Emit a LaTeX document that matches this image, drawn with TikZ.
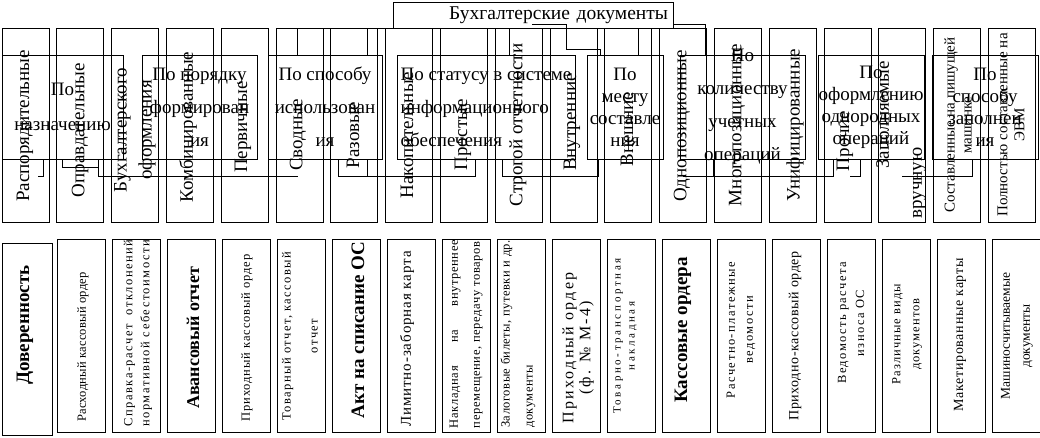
\documentclass[tikz,border=0pt]{standalone}
\usepackage{fontspec}
\setmainfont{Liberation Serif}
\newcommand{\trk}[1]{\addfontfeature{LetterSpace=#1}}
\tikzset{
  headbox/.style={rectangle, draw, line width=1pt, minimum width=280pt,
    minimum height=26pt, inner xsep=5pt, inner ysep=0pt, text width=270pt,
    align=right, font=\fontsize{19.5}{22}\selectfont},
  tallbox/.style={rectangle, draw, line width=1pt, minimum width=47pt,
    minimum height=194pt, inner sep=0pt},
  docbox/.style={rectangle, draw, line width=1pt, minimum width=48pt,
    minimum height=193pt, inner sep=0pt},
  grpbox/.style={rectangle, draw, line width=1pt, minimum height=104pt, inner sep=0pt},
  grptext/.style={inner sep=0pt, align=center, font={\fontsize{19}{#1}\selectfont}},
  vtext/.style={rotate=90, inner sep=0pt, align=center, font=\fontsize{19}{25}\selectfont},
  smallv/.style={rotate=90, inner sep=0pt, align=center, font=\fontsize{15}{17}\selectfont},
  doctext/.style n args={3}{rotate=90, inner sep=0pt, align=center,
    font={\fontsize{#1}{#2}\selectfont\trk{#3}}},
  boldtext/.style={rotate=90, inner sep=0pt, font={\fontsize{#1}{22}\selectfont\bfseries}},
  link/.style={line width=1pt}
}

\begin{document}
\begin{tikzpicture}[x=1pt, y=-1pt]
  \useasboundingbox (0,0) rectangle (1040,437);

  % Header
  \node[headbox] (top) at (533,15) {Бухгалтерские документы};

  % Kinds of documents (upper row)
  \foreach \i in {1,...,19}
    \node[tallbox] (t\i) at ({25.5+54.8*(\i-1)},125) {};

  \node[vtext] (n1) at (25,126) {Распорядительные};
  \node[vtext] (n2) at (80,130) {Оправдательные};
  \node[vtext] (n3) at (135,130) {Бухгалтерского\\оформления};
  \node[vtext] (n4) at (188,127) {Комбинированные};
  \node[vtext] (n5) at (243,127) {Первичные};
  \node[vtext] (n6) at (298,135) {Сводные};
  \node[vtext] (n7) at (353,135) {Разовые};
  \node[vtext] (n8) at (407,135) {Накопительные};
  \node[vtext] (n9) at (463,135) {Простые};
  \node[vtext] (n10) at (518,125) {Строгой отчетности};
  \node[vtext] (n11) at (572,122) {Внутренние};
  \node[vtext] (n12) at (627,129) {Внешние};
  \node[vtext] (n13) at (682,126) {Однопозиционные};
  \node[vtext] (n14) at (737,125) {Многопозиционные};
  \node[vtext] (n15) at (795,125) {Унифицированные};
  \node[vtext] (n16) at (845,141) {Прочие};
  \node[vtext, align=left, font=\fontsize{19}{33}\selectfont] (n17) at (901,140)
    {\hspace*{50pt}Заполняемые\\вручную};
  \node[smallv] (n18) at (958,125) {Составленные на пишущей\\машинке};
  \node[smallv] (n19) at (1011,125) {Полностью составленные на\\ЭВМ};

  % Classification groups
  \node[grpbox, minimum width=121pt] (g1) at (62.5,107) {};
  \node[grpbox, minimum width=115pt] (g2) at (199.5,107) {};
  \node[grpbox, minimum width=114pt] (g3) at (325,107) {};
  \node[grpbox, minimum width=178pt] (g4) at (486,107) {};
  \node[grpbox, minimum width=76pt] (g5) at (625,107) {};
  \node[grpbox, minimum width=125pt] (g6) at (742.5,107) {};
  \node[grpbox, minimum width=106pt] (g7) at (871,107) {};
  \node[grpbox, minimum width=106pt] (g8) at (985,107) {};

  \node[grptext=35] (g1l) at (g1) {По\\назначению};
  \node[grptext=33] (g2l) at (g2) {По порядку\\формирован\\ия};
  \node[grptext=33] (g3l) at (g3) {По способу\\использован\\ия};
  \node[grptext=33, align=left] (g4l) at (g4) {По статусу в системе\\информационного\\обеспечения};
  \node[grptext=22] (g5l) at (g5) {По\\месту\\составле\\ния};
  \node[grptext=33] (g6l) at (g6) {По\\количеству\\учетных\\операций};
  \node[grptext=22] (g7l) at (g7) {По\\оформлению\\однородных\\операций};
  \node[grptext=22] (g8l) at (g8) {По\\способу\\заполнен\\ия};

  % Header to groups
  \draw[link] (top.south west) -| ([xshift=-28pt]g3.north);
  \draw[link] (top.south west) -| ([xshift=42pt]g3.north);
  \draw[link] (top.south west) -| ([xshift=-54pt]g4.north);
  \draw[link] (top.south) -| ([xshift=23pt]g4.north);
  \draw[link] ([xshift=-1pt,yshift=4pt]top.south) -| ([xshift=-59pt,yshift=5pt]g5.north)
    -| ([xshift=-25pt]g5.north);
  \draw[link] (top.south east) -| ([xshift=13pt]g5.north);
  \draw[link] ([yshift=4pt]top.south east) -| ([xshift=-37.5pt]g6.north);

  % Groups to kinds
  \draw[link] ([xshift=-19.5pt]g1.south) |- ([xshift=-25pt,yshift=-17pt]g1.south);
  \draw[link] (g1.south) |- ([xshift=35.5pt,yshift=-8pt]g1.south) -- ([xshift=35.5pt]g1.south);
  \draw[link] ([xshift=35.5pt]g1.south) |- ([xshift=-27pt,yshift=-17pt]g3.south);
  \draw[link] ([xshift=13pt]g3.south) |- ([xshift=42pt,yshift=-17pt]g3.south) -- ([xshift=42pt]g3.south);
  \draw[link] ([xshift=42pt]g3.south) |- ([xshift=-11pt,yshift=-17pt]g4.south) -- ([xshift=-11pt]g4.south);
  \draw[link] ([xshift=16pt]g4.south) |- ([xshift=-27pt,yshift=-17pt]g5.south) -- ([xshift=-27pt]g5.south);
  \draw[link] ([xshift=-59.5pt,yshift=-17pt]g6.south) -| ([xshift=-29.5pt]g6.south);
  \draw[link] ([xshift=-29.5pt]g6.south) |- ([xshift=-38pt,yshift=-17pt]g7.south) -- ([xshift=-38pt]g7.south);
  \draw[link] ([xshift=-21pt,yshift=-17pt]g7.south) -| ([xshift=-11pt]g7.south);
  \draw[link] ([xshift=-83pt,yshift=-17pt]g8.south) -| ([xshift=-13pt]g8.south);

  % Examples of documents (lower row)
  \node[docbox, minimum width=50pt, minimum height=192pt] (b1) at (27,339) {};
  \foreach \i in {2,...,19}
    \node[docbox] (b\i) at ({26+55*(\i-1)},335.5) {};

  \node[boldtext=19] (d1) at (25,325) {Доверенность};
  \node[doctext={12.5}{18}{2}] (d2) at (83,347) {Расходный кассовый ордер};
  \node[doctext={12.5}{17}{12}, align=left] (d3) at (138,333)
    {\makebox[187pt][s]{Справка-расчет отклонений}\\нормативной себестоимости};
  \node[boldtext=18] (d4) at (193,338) {Авансовый отчет};
  \node[doctext={12.5}{18}{7}] (d5) at (247,338) {Приходный кассовый ордер};
  \node[doctext={12.5}{27}{11}] (d6) at (300,336) {Товарный отчет, кассовый\\отчет};
  \node[boldtext=19] (d7) at (358,330) {Акт на списание ОС};
  \node[doctext={15}{18}{6}] (d8) at (407,339) {Лимитно-заборная карта};
  \node[doctext={12.5}{22}{5}, align=left] (d9) at (466,334)
    {\makebox[188pt][s]{Накладная на внутреннее}\\перемещение, передачу товаров};
  \node[doctext={12.5}{23}{4}, align=left] (d10) at (518,334)
    {Залоговые билеты, путевки и др.\\документы};
  \node[doctext={16}{17}{14}] (d11) at (578,348) {Приходный ордер\\(ф. № М-4)};
  \node[doctext={11}{14}{24}] (d12) at (625,336) {Товарно-транспортная\\накладная};
  \node[boldtext=19] (d13) at (683,330) {Кассовые ордера};
  \node[doctext={12.5}{18}{12}] (d14) at (741,330) {Расчетно-платежные\\ведомости};
  \node[doctext={14}{18}{4}] (d15) at (795,336) {Приходно-кассовый ордер};
  \node[doctext={12.5}{18}{11}] (d16) at (851,323) {Ведомость расчета\\износа ОС};
  \node[doctext={12.5}{19}{8.5}] (d17) at (907,334) {Различные виды\\документов};
  \node[doctext={14}{18}{5}] (d18) at (960,335) {Макетированные карты};
  \node[doctext={13.5}{20}{0}] (d19) at (1017,336) {Машиносчитываемые\\документы};
\end{tikzpicture}
\end{document}
